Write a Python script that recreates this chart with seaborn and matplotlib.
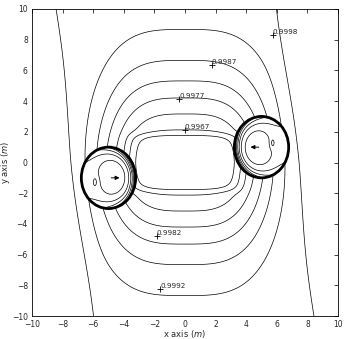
import numpy as np
import matplotlib
matplotlib.use("Agg")
import matplotlib.pyplot as plt
from matplotlib.patches import Ellipse
import seaborn as sns

# contour levels and the labels shown on the picture
levels = [0.9962, 0.9967, 0.9972, 0.9977, 0.9982, 0.9987, 0.9992, 0.9997]
label_text = ["0.9998", "0.9987", "0.9977", "0.9967", "0.9982", "0.9992"]
label_x = [5.73, 1.74, -0.39, 0.0, -1.85, -1.63]
label_y = [8.3, 6.35, 4.14, 2.12, -4.79, -8.24]

# the two cylinders, their arrows and the small closed loop in each core
circle_x = [-5.0, 5.0]
circle_y = [-1.0, 1.0]
circle_w = [3.55, 3.55]
circle_h = [4.0, 4.0]
arrow_dx = [0.9, -0.9]
oval_x = [-5.88, 5.73]
oval_y = [-1.27, 1.27]

ticks = [-10, -8, -6, -4, -2, 0, 2, 4, 6, 8, 10]

# field model parameters (arches, far band, central plateau, cylinder cores)
arch_peak, arch_x, arch_pow = 0.0034, 5.35, 3.4
arch_y, arch_ypow = 5.68, 1.8
band_amp, band_w, shear = 0.0004, 7.45, 0.17
plateau, pa, pb = 0.0008, 3.65, 1.835
core_min, pow_outer, pow_inner = 0.03, 1.5, 5.0
oval_amp = 0.0006

sns.set_style("white")
plt.rcParams["font.family"] = ["DejaVu Sans"]

x = np.linspace(-10, 10, 701)
y = np.linspace(-10, 10, 701)
X, Y = np.meshgrid(x, y)

t = np.clip((np.abs(X) - 4.0) / 3.5, 0, 1)
U = X + shear * Y * t * t * (3 - 2 * t)

G = arch_peak * np.exp(-(np.abs(X) / arch_x) ** arch_pow
                       - (np.abs(Y) / arch_y) ** arch_ypow)
G = G + band_amp * np.exp(-(np.abs(U) / band_w) ** 12)
G = G + plateau * np.exp(-(X / pa) ** 8 - (Y / pb) ** 8)

# inside each cylinder the field sinks towards the core,
# steeply on the side facing the centre
for cx, cy, w, h, ox, oy in zip(circle_x, circle_y, circle_w, circle_h,
                                oval_x, oval_y):
    ex = (X - cx) / (w / 2)
    ey = (Y - cy) / (h / 2)
    r = np.clip(np.sqrt(ex ** 2 + ey ** 2), 0, None)
    phi = np.arctan2(ey, ex) - np.arctan2(-cy, -cx)
    p = pow_outer + (pow_inner - pow_outer) * (1 + np.cos(phi)) / 2
    m = core_min + (1 - core_min) * np.clip(r, 0, 1) ** p
    oval = oval_amp * np.exp(-((X - ox) / 0.13) ** 2 - ((Y - oy) / 0.3) ** 2)
    G = np.where(r < 1, G * m + oval, G)

F = 1 - G

fig = plt.figure(figsize=(3.46, 3.39), dpi=100)
ax = fig.add_axes([32 / 346, 23 / 339, 306 / 346, 307 / 339])

ax.contour(X, Y, F, levels=levels, colors="black", linewidths=0.5)

for cx, cy, w, h, dx in zip(circle_x, circle_y, circle_w, circle_h, arrow_dx):
    ax.add_patch(Ellipse((cx, cy), w, h, fill=False, color="black", lw=2))
    ax.annotate("", xy=(cx + dx, cy), xytext=(cx, cy),
                arrowprops=dict(arrowstyle="-|>", color="black", lw=0.7,
                                mutation_scale=6))

for txt, lx, ly in zip(label_text, label_x, label_y):
    ax.plot(lx, ly, "+", color="black", ms=4, mew=0.6)
    ax.text(lx, ly, txt, fontsize=5.2, ha="left", va="bottom")

ax.set_xlim(-10, 10)
ax.set_ylim(-10, 10)
ax.set_xticks(ticks)
ax.set_yticks(ticks)
ax.tick_params(direction="in", length=3, width=0.6, labelsize=5.5,
               top=True, right=True, pad=3)
for sp in ax.spines.values():
    sp.set_linewidth(0.6)
    sp.set_color("black")
ax.set_xlabel("x axis ($m$)", fontsize=6)
ax.set_ylabel("y axis ($m$)", fontsize=6)
ax.xaxis.set_label_coords(0.5, -0.038)
ax.yaxis.set_label_coords(-0.066, 0.5)

fig.savefig("out.png", dpi=100)
